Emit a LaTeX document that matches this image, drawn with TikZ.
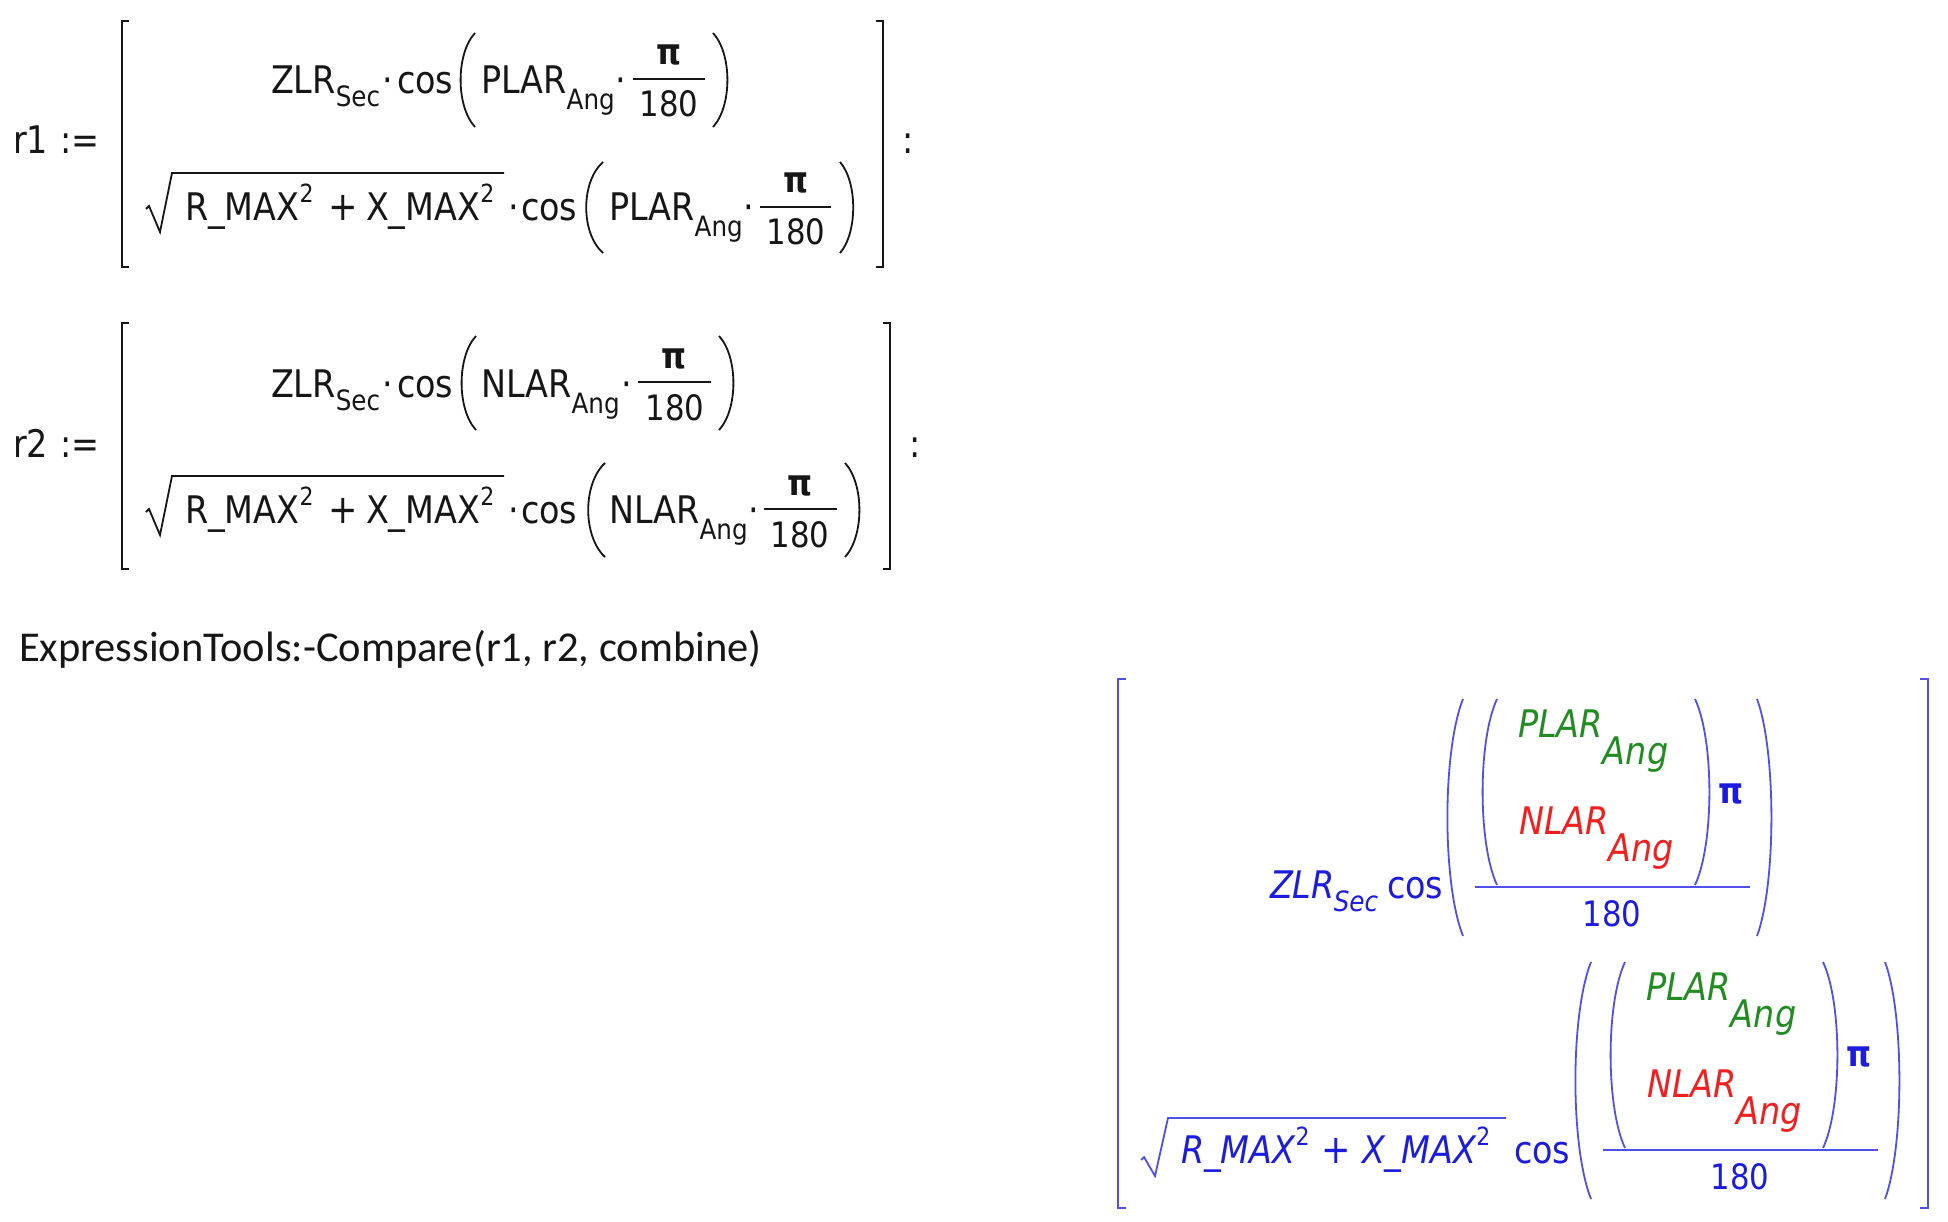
\documentclass[tikz,border=0pt]{standalone}
\usepackage{fontspec}
\setmainfont{Carlito}
\newfontfamily\mfont[FakeStretch=0.88]{DejaVu Sans}
\usetikzlibrary{calc}
\definecolor{ink}{RGB}{22,22,22}
\definecolor{mblue}{RGB}{28,28,222}
\definecolor{lblue}{RGB}{80,80,232}
\definecolor{mgreen}{RGB}{34,140,34}
\definecolor{mred}{RGB}{240,32,32}
\newcommand\lpar[5][ink]{\draw[pline,#1] (#3,#4) .. controls ({#2-(#3-#2)*0.6},{#4+0.22*(#5-#4)}) and ({#2-(#3-#2)*0.6},{#5-0.22*(#5-#4)}) .. (#3,#5);}
\newcommand\rpar[5][ink]{\draw[pline,#1] (#2,#4) .. controls ({#3+(#3-#2)*0.6},{#4+0.22*(#5-#4)}) and ({#3+(#3-#2)*0.6},{#5-0.22*(#5-#4)}) .. (#2,#5);}
\begin{document}
\begin{tikzpicture}[x=1pt,y=-1pt,
  every node/.style={inner sep=0pt,outer sep=0pt,anchor=base west,text=ink},
  m/.style={font=\mfont\fontsize{38}{46}\selectfont},
  pl/.style={font=\mfont\fontsize{40}{48}\selectfont,anchor=base},
  fr/.style={font=\mfont\fontsize{35}{42}\selectfont,anchor=base},
  pi/.style={font=\mfont\fontsize{36}{44}\selectfont\bfseries,anchor=base},
  sb/.style={font=\mfont\fontsize{28}{34}\selectfont},
  sp/.style={font=\mfont\fontsize{25}{30}\selectfont},
  mi/.style={font=\mfont\fontsize{38}{46}\selectfont\itshape},
  sbi/.style={font=\mfont\fontsize{28}{34}\selectfont\itshape},
  pline/.style={line width=1.8pt},
  brk/.style={draw=ink,line width=2.2pt},
  bar/.style={draw=ink,line width=1.8pt},
  rad/.style={draw=ink,line width=1.8pt,line join=miter},
  blu/.style={text=mblue},
  grn/.style={text=mgreen},
  rd/.style={text=mred}]
\useasboundingbox (0,0) rectangle (1948,1222);
\fill[white] (0,0) rectangle (1948,1222);
% ---------------- r1 ----------------
\node[m] (r1n) at (13,154) {r1};
\node[m] (r1as) at (60,154) {:=};
\draw[brk] (129,21) -- (122,21) -- (122,267) -- (129,267);
\draw[brk] (876,21) -- (883,21) -- (883,267) -- (876,267);
\node[m] (r1col) at (902,154) {:};
\node[m] (a1) at (271,94) {ZLR};
\node[sb] (a2) at ($(a1.base east)+(0,13)$) {Sec};
\node[m] (a3) at (382,94) {·};
\node[m] (a4) at (397,94) {cos};
\lpar{463}{475}{33}{127}
\node[m] (a5) at (481,94) {PLAR};
\node[sb] (a6) at ($(a5.base east)+(0,16)$) {Ang};
\node[m] (a7) at (615,94) {·};
\node[pi] (a8) at (669,65) {π};
\draw[bar] (633,79) -- (705,79);
\node[fr] (a9) at (669,117) {180};
\rpar{713}{725}{33}{127}
\draw[rad] (146,209) -- (149,206) -- (160,232) -- (172,173) -- (504,173);
\node[m] (b1) at (185,221) {R\_MAX};
\node[sp] (b2) at ($(b1.base east)+(0,-18)$) {2};
\node[pl] (b3) at (343,221) {+};
\node[m] (b4) at (366,221) {X\_MAX};
\node[sp] (b5) at ($(b4.base east)+(0,-18)$) {2};
\node[m] (b6) at (508,221) {·};
\node[m] (b7) at (521,221) {cos};
\lpar{589}{603}{162}{253}
\node[m] (b8) at (609,221) {PLAR};
\node[sb] (b9) at ($(b8.base east)+(0,16)$) {Ang};
\node[m] (b10) at (743,221) {·};
\node[pi] (b11) at (796,193) {π};
\draw[bar] (760,207) -- (831,207);
\node[fr] (b12) at (796,245) {180};
\rpar{840}{851}{162}{253}
% ---------------- r2 ----------------
\node[m] (r2n) at (13,457) {r2};
\node[m] (r2as) at (60,457) {:=};
\draw[brk] (129,323) -- (122,323) -- (122,569) -- (129,569);
\draw[brk] (883,323) -- (890,323) -- (890,569) -- (883,569);
\node[m] (r2col) at (909,457) {:};
\node[m] (d1) at (271,397) {ZLR};
\node[sb] (d2) at ($(d1.base east)+(0,13)$) {Sec};
\node[m] (d3) at (382,397) {·};
\node[m] (d4) at (397,397) {cos};
\lpar{464}{476}{336}{430}
\node[m] (d5) at (481,397) {NLAR};
\node[sb] (d6) at ($(d5.base east)+(0,16)$) {Ang};
\node[m] (d7) at (621,397) {·};
\node[pi] (d8) at (674,368) {π};
\draw[bar] (638,382) -- (711,382);
\node[fr] (d9) at (675,420) {180};
\rpar{719}{731}{336}{430}
\draw[rad] (146,512) -- (149,509) -- (160,535) -- (172,476) -- (504,476);
\node[m] (e1) at (185,523) {R\_MAX};
\node[sp] (e2) at ($(e1.base east)+(0,-18)$) {2};
\node[pl] (e3) at (343,523) {+};
\node[m] (e4) at (366,523) {X\_MAX};
\node[sp] (e5) at ($(e4.base east)+(0,-18)$) {2};
\node[m] (e6) at (508,523) {·};
\node[m] (e7) at (521,523) {cos};
\lpar{591}{605}{463}{557}
\node[m] (e8) at (609,523) {NLAR};
\node[sb] (e9) at ($(e8.base east)+(0,16)$) {Ang};
\node[m] (e10) at (748,523) {·};
\node[pi] (e11) at (800,495) {π};
\draw[bar] (764,509) -- (837,509);
\node[fr] (e12) at (800,547) {180};
\rpar{845}{857}{463}{557}
% ---------------- command ----------------
\node[font=\fontsize{42.5}{51}\selectfont] (cmp) at (19,661) {ExpressionTools:-Compare(r1, r2, combine)};
% ---------------- result ----------------
\draw[brk,draw=lblue] (1126,679) -- (1118,679) -- (1118,1208) -- (1126,1208);
\draw[brk,draw=lblue] (1920,679) -- (1928,679) -- (1928,1208) -- (1920,1208);
\node[mi,blu] (f1) at (1270,898) {ZLR};
\node[sbi,blu] (f2) at ($(f1.base east)+(-1,13)$) {Sec};
\node[m,blu] (f3) at (1387,898) {cos};
\foreach \dx/\dy/\s in {0/0/u,128/263/v}{
\begin{scope}[shift={(\dx,\dy)}]
\lpar[lblue]{1450}{1463}{699}{936}
\lpar[lblue]{1485}{1497}{699}{885}
\node[mi,grn] (g1\s) at (1518,737) {PLAR};
\node[mi,grn] (g2\s) at ($(g1\s.base east)+(0,27)$) {Ang};
\node[mi,rd] (g3\s) at (1519,834) {NLAR};
\node[mi,rd] (g4\s) at ($(g3\s.base east)+(0,27)$) {Ang};
\rpar[lblue]{1695}{1707}{699}{885}
\node[pi,blu] (g5\s) at (1731,803) {π};
\draw[bar,draw=lblue] (1475,887) -- (1750,887);
\node[fr,blu] (g6\s) at (1612,926) {180};
\rpar[lblue]{1757}{1769}{699}{936}
\end{scope}}
\draw[rad,draw=lblue] (1141,1160) -- (1144,1157) -- (1155,1176) -- (1168,1118) -- (1506,1118);
\node[mi,blu] (h1) at (1181,1163) {R\_MAX};
\node[sp,blu] (h2) at ($(h1.base east)+(0,-18)$) {2};
\node[pl,blu] (h3) at (1336,1163) {+};
\node[mi,blu] (h4) at (1362,1163) {X\_MAX};
\node[sp,blu] (h5) at ($(h4.base east)+(0,-18)$) {2};
\node[m,blu] (h6) at (1514,1163) {cos};
\end{tikzpicture}
\end{document}
